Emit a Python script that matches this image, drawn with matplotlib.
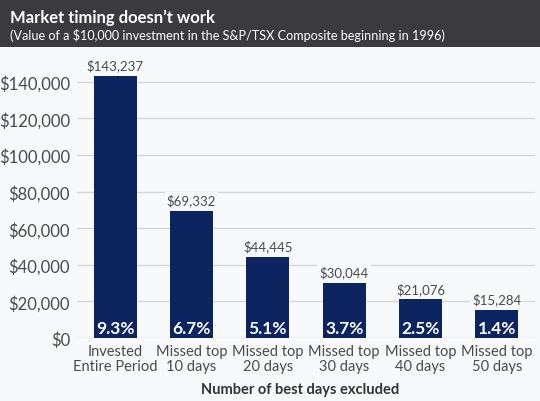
import matplotlib.pyplot as plt

categories = ["Invested\nEntire Period", "Missed top\n10 days", "Missed top\n20 days",
              "Missed top\n30 days", "Missed top\n40 days", "Missed top\n50 days"]
values = [143237, 69332, 44445, 30044, 21076, 15284]
returns = ["9.3%", "6.7%", "5.1%", "3.7%", "2.5%", "1.4%"]
yticks = [0, 20000, 40000, 60000, 80000, 100000, 120000, 140000]

bg = '#f8f9fb'
navy = '#0c2560'
grey = '#4a4a4a'
plt.rcParams['font.family'] = ['Lato', 'DejaVu Sans']

fig = plt.figure(figsize=(5.4, 4.02), dpi=100, facecolor=bg)

# dark header band
hdr = fig.add_axes([0, 1 - 48 / 402, 1, 48 / 402])
hdr.set_facecolor('#3b3b3d')
hdr.set_xticks([])
hdr.set_yticks([])
for s in hdr.spines.values():
    s.set_visible(False)
fig.text(10 / 540, 1 - 18 / 402, "Market timing doesn\u2019t work", color='white',
         fontsize=12, fontweight='bold', va='center', ha='left')
fig.text(10 / 540, 1 - 35 / 402, "(Value of a $10,000 investment in the S&P/TSX Composite beginning in 1996)",
         color='white', fontsize=9.05, va='center', ha='left')

ax = fig.add_axes([77 / 540, 1 - 339 / 402, 458 / 540, (339 - 64.5) / 402])
ax.set_facecolor(bg)
x = range(len(values))
ax.bar(x, values, width=0.56, color=navy, zorder=3)
ax.set_xlim(-0.5, 5.5)
ax.set_ylim(0, 150000)
ax.set_yticks(yticks)
ax.set_yticklabels(["${:,}".format(v) for v in yticks])
ax.grid(axis='y', color='#d4d6da', linewidth=1, zorder=0)
for s in ax.spines.values():
    s.set_visible(False)
ax.tick_params(axis='y', length=0, labelsize=12, labelcolor=grey, pad=5)
ax.set_xticks(list(x))
ax.set_xticklabels(categories, fontsize=10.5, color=grey, linespacing=1.1)
ax.tick_params(axis='x', length=0, pad=4)

for i, v in enumerate(values):
    ax.text(i, v + 2500, "${:,}".format(v), ha='center', va='bottom', fontsize=9.5, color=grey,
            bbox=dict(facecolor=bg, edgecolor='none', pad=1.5), zorder=4)
    ax.text(i, 1200, returns[i], ha='center', va='bottom', fontsize=12.5, color='white',
            fontweight='bold', zorder=5)

fig.text(0.555, 1 - 390 / 402, "Number of best days excluded", ha='center', va='center',
         fontsize=10.5, fontweight='bold', color='#333333')

fig.savefig('out.png', dpi=100, facecolor=bg)
